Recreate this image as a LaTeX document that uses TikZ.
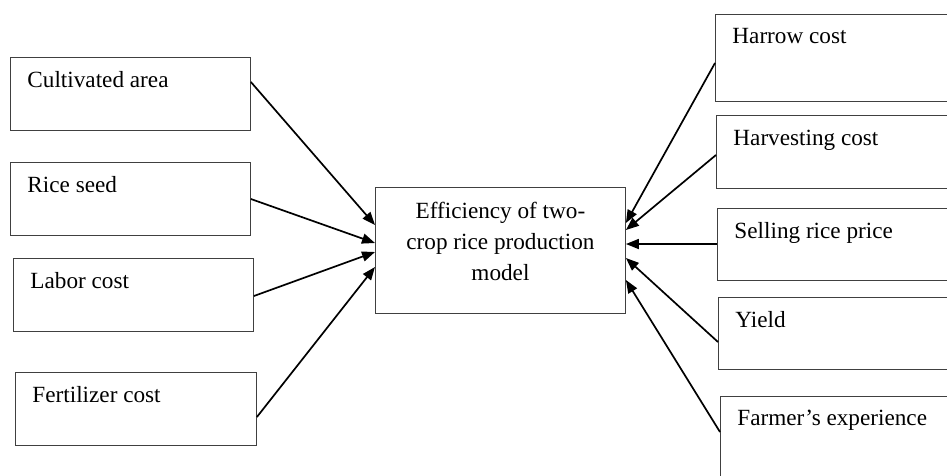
\documentclass[tikz,border=0pt]{standalone}
\usepackage{fontspec}
\setmainfont{Liberation Serif}
\usetikzlibrary{arrows.meta}
\begin{document}
\begin{tikzpicture}[x=1pt,y=-1pt,
  every node/.style={font=\fontsize{23.2pt}{31pt}\selectfont},
  inbox/.style={draw=black!75, line width=0.9pt, anchor=north west, inner xsep=17pt, inner ysep=0pt,
    align=flush left, text height=15.5pt, text depth=28.5pt, minimum height=73pt},
  arr/.style={line width=1.7pt, -{Triangle[length=13pt,width=10pt]}}
]
\useasboundingbox (0,0) rectangle (947,475);
\clip (0,0) rectangle (947,475);
\fill[white] (0,0) rectangle (947,475);
% left inputs
\node[inbox, text width=206pt] (ca) at (10,57) {Cultivated area};
\node[inbox, text width=206pt] (rs) at (10,162) {Rice seed};
\node[inbox, text width=206pt] (lc) at (13,258) {Labor cost};
\node[inbox, text width=207pt] (fc) at (15,372) {Fertilizer cost};
% right inputs
\node[inbox, text width=226pt, minimum height=87pt, text height=15pt, text depth=44pt] (hw) at (715,14) {Harrow cost};
\node[inbox, text width=226pt] (hv) at (716,115) {Harvesting cost};
\node[inbox, text width=226pt, minimum height=72pt, text height=15.5pt, text depth=27.5pt] (sp) at (717,208) {Selling rice price};
\node[inbox, text width=226pt, minimum height=72pt, text height=15.5pt, text depth=27.5pt] (yd) at (718,297) {Yield};
\node[inbox, text width=226pt, minimum height=90pt, text height=15pt, text depth=47pt] (fe) at (720,396) {Farmer’s experience};
% centre
\node[draw=black!75, line width=0.9pt, anchor=north west, minimum width=250pt, minimum height=126pt,
  align=center, inner sep=0pt] (eff) at (375,187)
  {Efficiency of two-\\crop rice production\\model\rule[-18pt]{0pt}{18pt}};
% arrows left
\draw[arr] ([yshift=-25pt]ca.north east) -- ([yshift=-38pt]eff.north west);
\draw[arr] ([yshift=-37pt]rs.north east) -- ([yshift=-56pt]eff.north west);
\draw[arr] ([yshift=-38pt]lc.north east) -- ([yshift=-65pt]eff.north west);
\draw[arr] ([yshift=-45pt]fc.north east) -- ([yshift=-80pt]eff.north west);
% arrows right
\draw[arr] ([yshift=-49pt]hw.north west) -- ([yshift=-36pt]eff.north east);
\draw[arr] ([yshift=-40pt]hv.north west) -- ([yshift=-43pt]eff.north east);
\draw[arr] ([yshift=-36pt]sp.north west) -- ([yshift=-57pt]eff.north east);
\draw[arr] ([yshift=-45pt]yd.north west) -- ([yshift=-71pt]eff.north east);
\draw[arr] ([yshift=-36pt]fe.north west) -- ([yshift=-93pt]eff.north east);
\end{tikzpicture}
\end{document}
